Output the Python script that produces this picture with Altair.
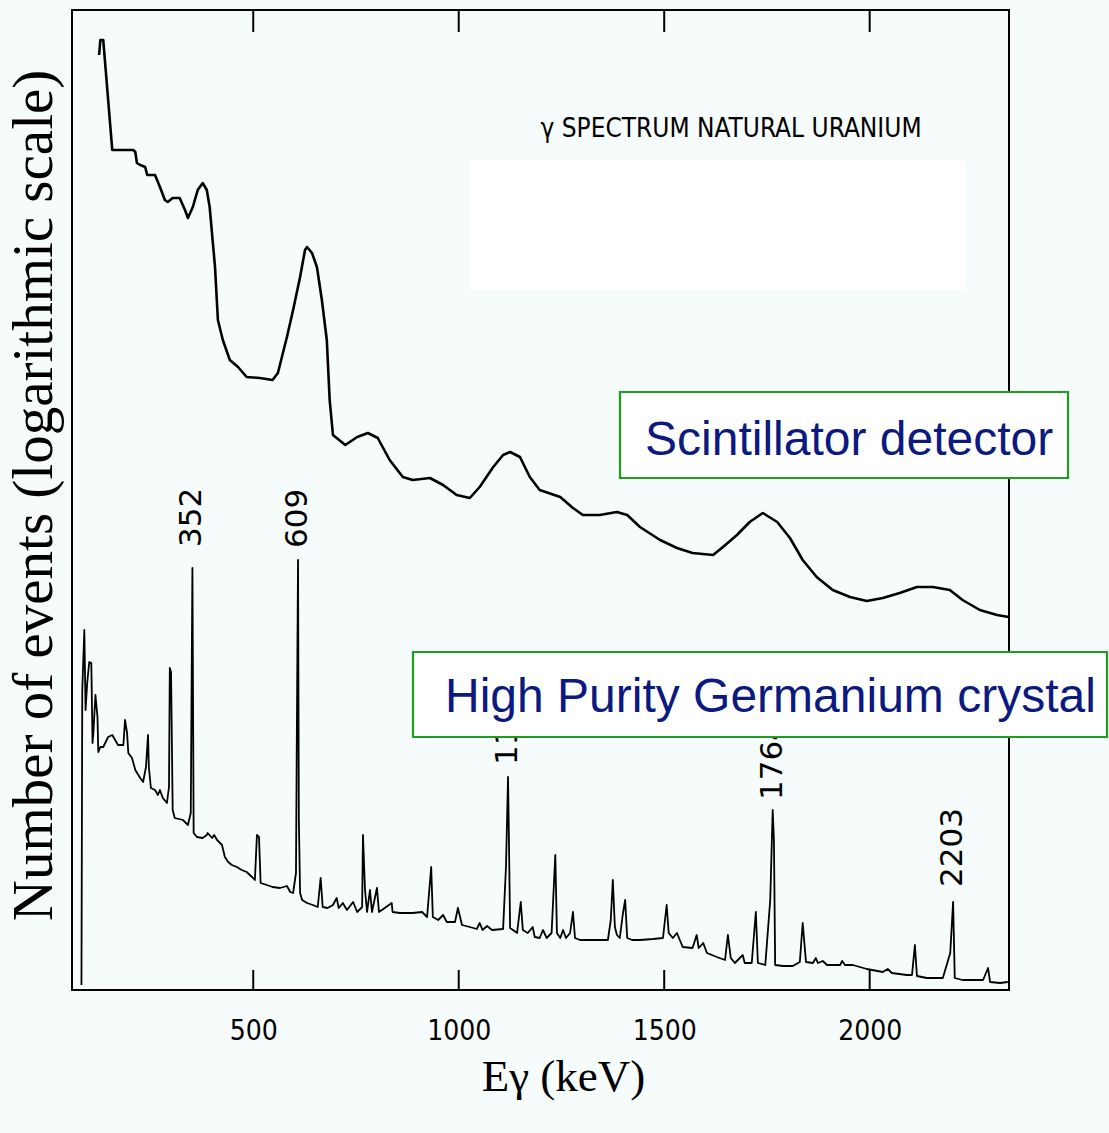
import altair as alt
import pandas as pd

# ---------------- data ----------------
# Scintillator (NaI) spectrum: energy (keV) and log10 of counts (arbitrary units)
scint_kev = [125, 128, 135, 157, 208, 213, 217, 225, 237, 242, 261, 273, 285, 292, 304,
             321, 334, 341, 353, 365, 377, 387, 394, 407, 414, 426, 443, 463, 484, 516,
             547, 560, 582, 597, 614, 626, 631, 643, 655, 667, 679, 686, 694, 724, 753,
             779, 803, 832, 864, 888, 930, 962, 995, 1027, 1051, 1084, 1108, 1125, 1149,
             1173, 1197, 1247, 1278, 1302, 1343, 1385, 1410, 1441, 1490, 1531, 1569, 1619,
             1643, 1677, 1708, 1740, 1775, 1806, 1837, 1871, 1910, 1952, 1993, 2032, 2073,
             2115, 2154, 2195, 2226, 2268, 2310, 2338]
scint_log = [4.675, 4.75, 4.75, 4.2, 4.2, 4.19, 4.135, 4.125, 4.115, 4.075, 4.075, 4.015,
             3.95, 3.94, 3.96, 3.96, 3.9, 3.86, 3.915, 4.0, 4.035, 4.0, 3.915, 3.615, 3.35,
             3.25, 3.15, 3.115, 3.065, 3.06, 3.05, 3.085, 3.265, 3.4, 3.565, 3.7, 3.715,
             3.685, 3.615, 3.45, 3.25, 2.95, 2.775, 2.725, 2.765, 2.785, 2.76, 2.65, 2.565,
             2.55, 2.56, 2.525, 2.475, 2.46, 2.515, 2.615, 2.675, 2.69, 2.665, 2.565, 2.5,
             2.465, 2.41, 2.375, 2.375, 2.39, 2.375, 2.315, 2.25, 2.21, 2.185, 2.175, 2.215,
             2.275, 2.34, 2.385, 2.34, 2.26, 2.15, 2.065, 2.0, 1.965, 1.945, 1.96, 1.985,
             2.015, 2.015, 2.0, 1.95, 1.9, 1.875, 1.865]

# High Purity Germanium spectrum: energy (keV) and log10 of counts (arbitrary units)
hpge_kev = [82, 84, 89, 92, 96, 101, 106, 109, 111, 116, 121, 123, 128, 135, 147, 157, 164,
            171, 184, 188, 193, 196, 205, 213, 225, 232, 239, 244, 246, 251, 261, 268, 273,
            280, 290, 295, 297, 300, 304, 309, 329, 341, 348, 352, 355, 363, 377, 387, 389,
            400, 405, 412, 424, 431, 439, 448, 460, 472, 484, 497, 504, 509, 514, 518, 533,
            547, 565, 582, 590, 597, 604, 606, 609, 611, 614, 619, 631, 645, 657, 664, 669,
            681, 694, 703, 708, 718, 728, 743, 753, 765, 767, 772, 777, 784, 789, 801, 806,
            820, 837, 839, 857, 888, 911, 923, 933, 937, 950, 962, 971, 991, 998, 1008, 1027,
            1044, 1051, 1058, 1069, 1081, 1108, 1115, 1120, 1122, 1125, 1132, 1142, 1151,
            1156, 1168, 1180, 1185, 1197, 1205, 1214, 1226, 1235, 1239, 1247, 1254, 1261,
            1271, 1278, 1283, 1295, 1319, 1343, 1363, 1370, 1375, 1380, 1385, 1392, 1399,
            1405, 1410, 1422, 1441, 1473, 1497, 1506, 1511, 1521, 1531, 1538, 1545, 1569,
            1579, 1584, 1595, 1604, 1628, 1648, 1655, 1662, 1672, 1684, 1691, 1696, 1713,
            1723, 1728, 1746, 1758, 1764, 1767, 1770, 1789, 1813, 1830, 1837, 1845, 1862,
            1869, 1874, 1886, 1896, 1928, 1933, 1940, 1959, 1993, 2032, 2044, 2054, 2090,
            2103, 2110, 2115, 2139, 2178, 2196, 2203, 2207, 2226, 2276, 2288, 2293, 2317,
            2336]
hpge_log = [0.025, 1.5, 1.8, 1.4, 1.535, 1.64, 1.635, 1.235, 1.285, 1.475, 1.365, 1.19,
            1.215, 1.215, 1.265, 1.275, 1.25, 1.225, 1.225, 1.35, 1.285, 1.185, 1.16, 1.1,
            1.06, 1.04, 1.115, 1.275, 1.115, 1.01, 1.0, 0.975, 1.0, 0.96, 0.935, 1.015, 1.61,
            1.59, 0.9, 0.86, 0.85, 0.825, 0.885, 2.11, 0.785, 0.765, 0.76, 0.775, 0.785,
            0.76, 0.775, 0.75, 0.725, 0.665, 0.64, 0.625, 0.615, 0.6, 0.59, 0.565, 0.55,
            0.775, 0.765, 0.535, 0.525, 0.515, 0.51, 0.52, 0.49, 0.485, 0.585, 1.25, 2.15,
            0.85, 0.485, 0.45, 0.435, 0.425, 0.415, 0.56, 0.415, 0.41, 0.425, 0.46, 0.41,
            0.435, 0.4, 0.44, 0.39, 0.415, 0.775, 0.5, 0.39, 0.5, 0.39, 0.51, 0.39, 0.41,
            0.435, 0.39, 0.385, 0.385, 0.39, 0.365, 0.615, 0.365, 0.35, 0.375, 0.34, 0.34,
            0.41, 0.325, 0.315, 0.305, 0.335, 0.3, 0.32, 0.3, 0.305, 0.615, 1.065, 0.785,
            0.31, 0.3, 0.285, 0.44, 0.3, 0.285, 0.315, 0.265, 0.26, 0.3, 0.26, 0.285, 0.675,
            0.285, 0.26, 0.3, 0.26, 0.285, 0.39, 0.26, 0.25, 0.25, 0.25, 0.25, 0.35, 0.55,
            0.315, 0.275, 0.26, 0.375, 0.45, 0.26, 0.25, 0.25, 0.255, 0.26, 0.425, 0.285,
            0.26, 0.285, 0.25, 0.215, 0.21, 0.275, 0.21, 0.235, 0.185, 0.165, 0.15, 0.275,
            0.16, 0.135, 0.16, 0.175, 0.135, 0.135, 0.39, 0.135, 0.125, 0.45, 0.9, 0.75,
            0.125, 0.12, 0.12, 0.14, 0.335, 0.14, 0.135, 0.16, 0.135, 0.145, 0.125, 0.125,
            0.145, 0.125, 0.125, 0.105, 0.09, 0.105, 0.085, 0.075, 0.075, 0.225, 0.07, 0.06,
            0.06, 0.185, 0.44, 0.06, 0.05, 0.05, 0.11, 0.04, 0.035, 0.04]

# Labelled germanium lines
peak_kev = [352, 609, 1120, 1764, 2203]
peak_text = ["352", "609", "1120", "1764", "2203"]
peak_label_log = [2.215, 2.21, 1.125, 0.95, 0.515]

tick_kev = [500, 1000, 1500, 2000]

# ---------------- layout ----------------
W, H = 937, 980
BG = "#f6fbfb"
GREEN = "#1e9e1e"
NAVY = "#0c1a80"
NARROW = "DejaVu Sans Condensed, sans-serif"

scint = pd.DataFrame({"E": scint_kev, "logN": scint_log, "i": list(range(len(scint_kev)))})
hpge = pd.DataFrame({"E": hpge_kev, "logN": hpge_log, "i": list(range(len(hpge_kev)))})
peaks = pd.DataFrame({"E": peak_kev, "logN": peak_label_log, "label": peak_text})
ticks = pd.DataFrame({"E": tick_kev})
one = pd.DataFrame({"k": [0]})

x_scale = alt.Scale(domain=[59, 2339], nice=False, zero=False)
y_scale = alt.Scale(domain=[0, 4.9], nice=False, zero=False)

x_axis = alt.Axis(values=tick_kev, format="d", ticks=False, tickSize=0, domain=False,
                  grid=False, labelFont=NARROW, labelFontSize=28, labelColor="black",
                  labelPadding=27,
                  title="Eγ (keV)", titleFont="Liberation Serif", titleFontSize=45,
                  titleFontWeight="normal", titleColor="black", titlePadding=9,
                  titleX=491)
y_axis = alt.Axis(labels=False, ticks=False, tickSize=0, domain=False, grid=False,
                  title="Number of events (logarithmic scale)", titleFont="Liberation Serif",
                  titleFontSize=57, titleFontWeight="normal", titleColor="black",
                  titlePadding=9, titleY=485)

X = alt.X("E:Q", scale=x_scale, axis=x_axis)
Y = alt.Y("logN:Q", scale=y_scale, axis=y_axis)

# plain white patch inside the frame
patch = alt.Chart(one).mark_rect(fill="white").encode(
    x=alt.value(398), x2=alt.value(893), y=alt.value(150), y2=alt.value(280))

scint_line = alt.Chart(scint).mark_line(color="black", strokeWidth=2.6, strokeJoin="round").encode(
    x=X, y=Y, order="i:Q")
hpge_line = alt.Chart(hpge).mark_line(color="black", strokeWidth=1.8, strokeJoin="round").encode(
    x=X, y=Y, order="i:Q")

# inward ticks on bottom and top edges
ticks_bottom = alt.Chart(ticks).mark_rule(color="black", strokeWidth=2).encode(
    x=X, y=alt.value(H - 20), y2=alt.value(H))
ticks_top = alt.Chart(ticks).mark_rule(color="black", strokeWidth=2).encode(
    x=X, y=alt.value(0), y2=alt.value(22))

peak_labels = alt.Chart(peaks).mark_text(
    angle=270, align="left", baseline="middle", font="DejaVu Sans", fontSize=31,
    color="black").encode(x=X, y=Y, text="label:N")

title = alt.Chart(pd.DataFrame({"t": ["γ SPECTRUM NATURAL URANIUM"]})).mark_text(
    align="center", baseline="alphabetic", font=NARROW, fontSize=26,
    color="black").encode(x=alt.value(659), y=alt.value(127), text="t:N")

box_scint = alt.Chart(one).mark_rect(fill="white", stroke=GREEN, strokeWidth=2.2).encode(
    x=alt.value(548), x2=alt.value(996), y=alt.value(382), y2=alt.value(468))
box_hpge = alt.Chart(one).mark_rect(fill="white", stroke=GREEN, strokeWidth=2.2).encode(
    x=alt.value(341), x2=alt.value(1035), y=alt.value(642), y2=alt.value(727))

text_scint = alt.Chart(pd.DataFrame({"t": ["Scintillator detector"]})).mark_text(
    align="left", baseline="alphabetic", font="Liberation Sans", fontSize=48,
    color=NAVY).encode(x=alt.value(573), y=alt.value(445), text="t:N")
text_hpge = alt.Chart(pd.DataFrame({"t": ["High Purity Germanium crystal"]})).mark_text(
    align="left", baseline="alphabetic", font="Liberation Sans", fontSize=48,
    color=NAVY).encode(x=alt.value(373), y=alt.value(702), text="t:N")

chart = alt.layer(
    patch, scint_line, hpge_line, ticks_bottom, ticks_top, peak_labels, title,
    box_scint, box_hpge, text_scint, text_hpge,
).properties(
    width=W, height=H, background=BG,
    padding={"left": 72, "top": 10, "right": 100, "bottom": 143},
    autosize=alt.AutoSizeParams(type="none"),
).configure_view(stroke="black", strokeWidth=2)

chart.save("out.html", embed_options={"renderer": "svg", "actions": False})
